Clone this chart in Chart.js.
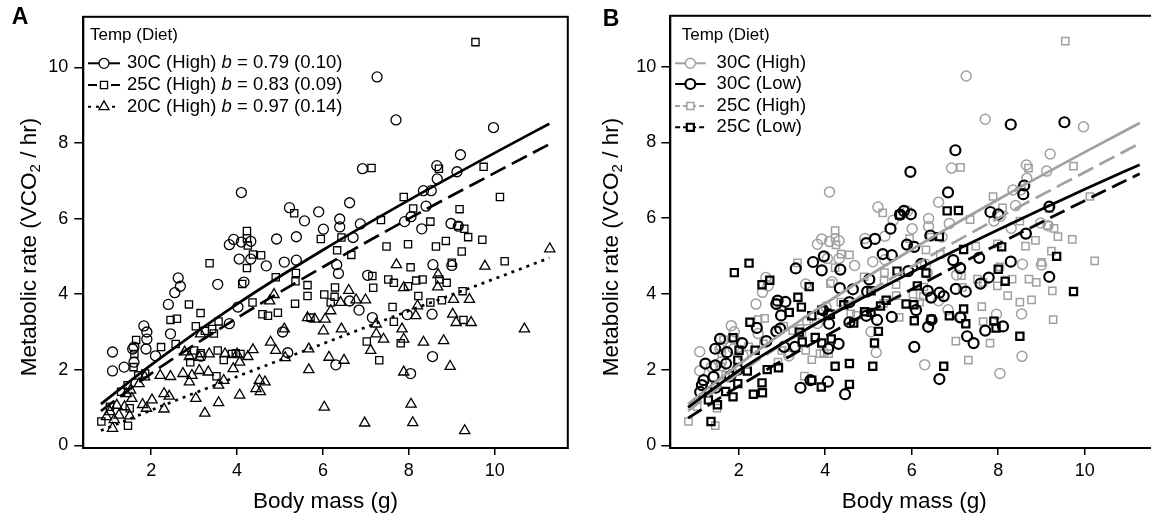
<!DOCTYPE html>
<html>
<head>
<meta charset="utf-8">
<script src="https://cdn.jsdelivr.net/npm/chart.js"></script>
<style>
  html, body { margin: 0; padding: 0; background: #fff; }
  #wrap { position: relative; width: 1151px; height: 515px; overflow: hidden; }
  canvas { position: absolute; top: 0; }
</style>
</head>
<body>
<div id="wrap">
  <canvas id="panelA" width="575" height="515" style="left:0"></canvas>
  <canvas id="panelB" width="600" height="515" style="left:575px"></canvas>
</div>
<script>
// Ticks
const xTicks = [2, 4, 6, 8, 10];
const yTicks = [0, 2, 4, 6, 8, 10];

// 30C, high diet (circles)
const circ30High = [
  [1.10,2.47],[1.10,1.97],[1.37,2.07],[1.57,2.55],[1.60,2.20],[1.60,2.60],[1.83,3.16],[1.88,2.55],
  [1.90,3.00],[1.90,2.81],[2.10,2.37],[2.40,3.73],[2.45,2.95],[2.55,4.04],[2.68,4.21],[2.63,4.43],
  [3.16,2.36],[3.55,4.26],[3.82,3.22],[3.82,5.31],[3.92,5.45],[4.02,3.66],[4.05,4.93],[4.10,5.38],
  [4.10,6.69],[4.16,4.32],[4.32,5.40],[4.32,4.93],[4.68,4.75],[4.92,5.46],[5.18,2.45],[5.06,3.00],
  [5.10,4.85],[5.22,6.29],[5.38,5.52],[5.38,4.90],[5.57,5.94],[5.90,6.18],[6.01,5.72],[6.30,2.13],
  [6.32,4.78],[6.36,4.55],[6.39,5.99],[6.39,5.78],[6.62,6.42],[6.62,3.82],[6.70,5.50],[6.84,3.58],
  [6.87,5.86],[6.92,7.32],[7.04,4.50],[7.15,3.38],[7.26,9.75],[7.70,8.61],[7.90,5.92],[7.96,3.46],
  [8.05,6.05],[8.04,1.90],[8.30,5.73],[8.34,6.74],[8.40,6.33],[8.52,6.74],[8.54,3.47],[8.55,2.35],
  [8.56,4.78],[8.65,7.40],[8.66,7.05],[8.98,5.87],[9.00,4.76],[9.12,7.24],[9.15,5.80],[9.20,7.69],
  [9.97,8.41]
];

// 25C, high diet (squares)
const sq25High = [
  [0.84,0.63],[1.04,1.02],[1.30,1.42],[1.45,1.59],[1.46,0.52],[1.50,0.98],[1.59,2.07],[1.61,2.42],
  [1.65,2.79],[1.70,1.85],[1.86,1.90],[2.23,2.60],[2.45,3.32],[2.60,3.35],[2.57,2.68],[2.88,3.73],
  [2.91,2.20],[3.00,2.51],[3.04,3.15],[3.15,3.50],[3.15,2.44],[3.25,3.03],[3.36,4.82],[3.42,3.08],
  [3.46,2.96],[3.55,2.51],[3.57,3.28],[3.52,1.83],[3.69,2.26],[3.88,2.42],[3.97,2.44],[4.08,2.42],
  [4.12,4.27],[4.23,5.67],[4.23,5.48],[4.25,5.29],[4.23,4.69],[4.36,3.78],[4.37,5.05],[4.56,5.03],
  [4.59,3.47],[4.72,3.43],[4.90,4.45],[4.95,3.51],[5.33,6.14],[5.37,4.56],[5.36,4.34],[5.35,3.75],
  [5.64,4.24],[5.64,3.95],[5.71,3.38],[5.95,5.46],[6.03,3.99],[6.18,3.78],[6.28,4.18],[6.27,3.93],
  [6.33,5.16],[6.43,5.50],[6.66,5.04],[7.02,2.75],[7.13,7.34],[7.17,4.17],[7.15,4.48],[7.31,2.25],
  [7.35,5.96],[7.48,5.26],[7.52,4.39],[7.62,3.66],[7.65,4.30],[7.65,3.27],[7.81,2.70],[7.88,6.57],
  [7.98,5.32],[7.98,4.21],[8.04,4.71],[8.10,6.27],[8.17,4.36],[8.22,3.95],[8.32,4.39],[8.50,5.92],
  [8.50,3.78],[8.63,5.26],[8.70,7.32],[8.71,4.39],[8.77,3.84],[8.86,5.41],[8.88,4.30],[9.00,4.83],
  [9.15,5.81],[9.18,6.25],[9.23,5.13],[9.25,4.08],[9.27,3.32],[9.29,5.73],[9.38,5.51],[9.55,10.67],
  [9.71,5.44],[9.74,7.37],[10.12,6.57],[10.23,4.87]
];

// 20C, high diet (triangles)
const tri20High = [
  [0.96,0.76],[1.04,0.89],[1.10,0.45],[1.14,0.68],[1.25,0.80],[1.38,1.02],[1.20,1.06],[1.42,1.37],
  [1.50,0.78],[1.52,1.46],[1.55,1.24],[1.72,1.63],[1.80,1.08],[1.85,1.81],[1.89,0.98],[2.02,1.20],
  [2.21,1.85],[2.30,0.96],[2.30,1.37],[2.42,1.30],[2.45,1.82],[2.74,1.90],[2.78,2.47],[2.89,2.35],
  [2.89,1.68],[2.95,1.85],[3.04,1.24],[3.12,2.33],[3.12,1.98],[3.15,2.95],[3.25,0.85],[3.33,1.94],
  [3.35,2.42],[3.57,1.59],[3.57,1.13],[3.69,1.72],[3.72,2.42],[3.91,2.03],[4.00,2.42],[4.06,2.20],
  [4.06,1.33],[4.25,2.35],[4.37,2.53],[4.44,1.50],[4.54,1.42],[4.52,1.72],[4.65,1.68],[4.76,3.82],
  [4.86,3.99],[4.78,2.73],[4.90,2.51],[5.10,3.08],[5.12,2.32],[5.64,3.38],[5.67,2.55],[5.67,2.00],
  [5.81,3.34],[6.01,3.03],[6.03,1.01],[6.05,3.34],[6.14,2.33],[6.18,3.56],[6.41,3.78],[6.43,3.08],
  [6.49,2.25],[6.60,4.10],[6.77,3.85],[6.97,0.59],[6.99,3.85],[7.11,2.51],[7.24,3.21],[7.24,2.95],
  [7.41,2.81],[7.71,4.78],[7.84,3.08],[7.88,4.17],[7.88,2.81],[7.88,1.94],[8.05,1.09],[8.09,0.60],
  [8.16,3.43],[8.20,3.69],[8.34,2.73],[8.67,4.19],[8.68,4.52],[8.81,2.77],[8.96,2.09],[9.02,3.47],
  [9.04,3.86],[9.10,3.25],[9.30,0.39],[9.41,3.86],[9.45,3.25],[9.77,4.74],[10.69,3.08],[11.28,5.20]
];

// 30C, low diet (circles, panel B)
const circ30Low = [
  [1.11,1.41],[1.15,1.59],[1.19,1.72],[1.23,2.16],[1.42,1.81],[1.46,2.55],[1.46,2.11],[1.47,1.52],
  [1.57,2.81],[1.71,2.16],[1.73,2.46],[1.80,1.82],[1.98,2.00],[2.08,2.70],[2.42,3.10],[2.64,2.75],
  [2.87,3.73],[2.87,3.01],[2.90,3.82],[2.96,3.08],[2.98,3.43],[3.08,3.79],[3.05,2.60],[3.30,2.60],
  [3.32,4.67],[3.43,1.52],[3.66,1.72],[3.72,4.84],[3.92,4.62],[3.95,3.57],[3.97,4.99],[4.06,1.68],
  [4.07,2.55],[4.08,3.46],[4.09,3.21],[4.31,2.68],[4.34,4.15],[4.35,4.64],[4.46,1.35],[4.56,3.78],
  [4.56,3.25],[4.64,4.12],[4.95,3.42],[4.95,5.34],[4.97,4.06],[5.02,4.38],[5.15,5.45],[5.20,3.31],
  [5.33,5.05],[5.54,5.02],[5.51,5.72],[5.54,3.39],[5.73,6.09],[5.82,6.19],[5.92,4.60],[5.97,7.22],
  [5.98,6.10],[6.06,5.24],[5.89,5.30],[6.06,2.60],[6.10,3.57],[6.22,4.79],[6.37,4.08],[6.38,3.13],
  [6.43,5.54],[6.45,3.90],[6.46,3.31],[6.64,4.03],[6.64,1.75],[6.74,3.94],[6.84,6.68],[6.96,4.89],
  [7.01,7.79],[7.02,4.13],[7.12,4.68],[7.12,3.38],[7.25,4.06],[7.28,2.88],[7.43,2.70],[7.59,4.27],
  [7.56,4.95],[7.70,3.03],[7.78,4.43],[7.82,6.16],[8.00,6.10],[8.11,3.14],[8.29,8.47],[8.29,4.85],
  [8.58,6.63],[8.60,6.86],[8.64,5.59],[9.18,6.30],[9.18,4.45],[9.53,8.53]
];

// 25C, low diet (squares, panel B)
const sq25Low = [
  [1.30,1.20],[1.36,0.63],[1.51,1.07],[1.70,1.42],[1.87,1.28],[1.87,2.84],[1.90,4.56],[1.98,2.25],
  [1.98,1.63],[2.01,2.51],[2.20,1.96],[2.24,4.81],[2.26,3.25],[2.34,1.35],[2.38,2.51],[2.54,4.24],
  [2.54,1.65],[2.55,1.39],[2.66,2.00],[2.72,4.36],[2.92,2.05],[3.17,3.51],[3.37,3.91],[3.40,2.99],
  [3.45,3.65],[3.47,2.73],[3.63,4.19],[3.69,3.42],[3.69,1.72],[3.77,2.85],[3.92,3.57],[3.92,2.70],
  [3.91,1.54],[4.12,3.46],[4.14,2.81],[4.23,2.09],[4.43,3.71],[4.56,2.16],[4.56,1.61],[4.66,3.23],
  [4.91,3.53],[5.06,3.51],[5.06,4.08],[5.10,2.09],[5.14,2.70],[5.23,3.01],[5.28,3.68],[5.41,3.83],
  [5.66,4.60],[5.72,6.08],[5.87,3.73],[6.05,3.71],[6.06,3.29],[6.13,4.21],[6.33,4.55],[6.45,3.33],
  [6.64,5.51],[6.74,2.09],[6.82,6.19],[6.87,3.42],[7.08,6.20],[7.20,5.17],[7.20,3.60],[7.25,3.21],
  [7.90,3.28],[7.95,3.10],[8.00,4.65],[8.08,5.24],[8.16,4.33],[8.50,2.88],[9.35,4.99],[9.74,4.06]
];

// Fitted curves at these masses
const fitX = [0.83, 2, 4, 6, 8, 10, 11.27];
const fit30High = [1.09, 2.13, 3.74, 5.17, 6.49, 7.74, 8.51];
const fit25High = [0.91, 1.90, 3.37, 4.72, 6.00, 7.21, 7.97];
const fit20High = [0.39, 0.93, 1.82, 2.69, 3.56, 4.41, 4.96];
const fit30Low  = [1.00, 1.97, 3.35, 4.57, 5.69, 6.76, 7.41];
const fit25Low  = [0.72, 1.56, 2.88, 4.12, 5.31, 6.46, 7.17];

const FONT = '"Liberation Sans", Arial, Helvetica, sans-serif';
const GRAY = '#a0a0a0';
Chart.defaults.font.family = FONT;
Chart.defaults.color = '#000';

function pts(arr) { return arr.map(p => ({ x: p[0], y: p[1] })); }
function curve(ys) { return fitX.map((x, i) => ({ x: x, y: ys[i] })); }

function markers(arr, style, color, radius, width) {
  return {
    data: pts(arr), showLine: false, pointStyle: style, pointRadius: radius,
    pointBorderWidth: width, borderColor: color, pointBorderColor: color,
    pointBackgroundColor: 'rgba(0,0,0,0)', backgroundColor: 'rgba(0,0,0,0)'
  };
}
function fitLine(ys, color, width, dash) {
  return {
    data: curve(ys), showLine: true, pointRadius: 0, borderColor: color,
    borderWidth: width, borderDash: dash, cubicInterpolationMode: 'monotone', fill: false
  };
}

function drawMarker(ctx, style, x, y, r, color, lw) {
  ctx.save();
  ctx.strokeStyle = color; ctx.fillStyle = '#fff'; ctx.lineWidth = lw; ctx.setLineDash([]);
  ctx.beginPath();
  if (style === 'circle') {
    ctx.arc(x, y, r, 0, Math.PI * 2);
  } else if (style === 'rect') {
    const s = r * Math.SQRT1_2;
    ctx.rect(x - s, y - s, 2 * s, 2 * s);
  } else {
    ctx.moveTo(x, y - r);
    ctx.lineTo(x + r * 0.866, y + r * 0.5);
    ctx.lineTo(x - r * 0.866, y + r * 0.5);
    ctx.closePath();
  }
  ctx.fill(); ctx.stroke();
  ctx.restore();
}

// frame, panel letter, y title and R-style legend
const framePlugin = {
  id: 'rFrame',
  afterDraw(chart, args, opts) {
    const ctx = chart.ctx, a = chart.chartArea;
    ctx.save();
    ctx.lineWidth = 2; ctx.strokeStyle = '#000'; ctx.setLineDash([]);
    ctx.strokeRect(a.left, a.top, a.right - a.left, a.bottom - a.top);

    ctx.fillStyle = '#000';
    ctx.textBaseline = 'middle';
    ctx.textAlign = 'center';
    ctx.font = 'bold 23px ' + FONT;
    ctx.fillText(opts.letter, opts.letterX, opts.letterY);

    // y axis title with subscript
    ctx.save();
    ctx.translate(opts.yTitleX, 247);
    ctx.rotate(-Math.PI / 2);
    ctx.textAlign = 'left';
    ctx.textBaseline = 'middle';
    const big = '22.5px ' + FONT, small = '15px ' + FONT;
    const p1 = 'Metabolic rate (VCO', p2 = '2', p3 = ' / hr)';
    ctx.font = big; const w1 = ctx.measureText(p1).width, w3 = ctx.measureText(p3).width;
    ctx.font = small; const w2 = ctx.measureText(p2).width;
    let tx = -(w1 + w2 + w3) / 2;
    ctx.font = big; ctx.fillText(p1, tx, 0); tx += w1;
    ctx.font = small; ctx.fillText(p2, tx, 6); tx += w2;
    ctx.font = big; ctx.fillText(p3, tx, 0);
    ctx.restore();

    ctx.textAlign = 'left';
    ctx.font = '17px ' + FONT;
    ctx.fillText('Temp (Diet)', a.left + opts.titleDx, 35);

    opts.items.forEach((it, i) => {
      const y = opts.rowY[i];
      const x0 = a.left + opts.sample[0], x1 = a.left + opts.sample[1];
      ctx.strokeStyle = it.color; ctx.lineWidth = it.lw;
      ctx.setLineDash(it.dash);
      ctx.beginPath(); ctx.moveTo(x0, y); ctx.lineTo(x1, y); ctx.stroke();
      drawMarker(ctx, it.style, (x0 + x1) / 2, y, it.r, it.color, it.mw);
      let tx2 = a.left + opts.textDx;
      ctx.fillStyle = '#000';
      it.parts.forEach(p => {
        ctx.font = (p.it ? 'italic ' : '') + '18.5px ' + FONT;
        ctx.fillText(p.t, tx2, y);
        tx2 += ctx.measureText(p.t).width;
      });
    });
    ctx.restore();
  }
};

function makePanel(id, L, datasets) {
  return new Chart(document.getElementById(id), {
    type: 'scatter',
    data: { datasets: datasets },
    options: {
      responsive: false, animation: false, devicePixelRatio: 1,
      layout: { padding: { top: 13, right: L.padRight, left: 0, bottom: 0 } },
      plugins: {
        legend: { display: false }, tooltip: { enabled: false },
        rFrame: L.legend
      },
      scales: {
        x: {
          type: 'linear', min: 0.42, max: 11.70,
          afterBuildTicks: s => { s.ticks = xTicks.map(v => ({ value: v })); },
          afterFit: s => { s.height = 67; },
          grid: { drawOnChartArea: false, drawTicks: true, tickLength: 7, color: '#000', lineWidth: 1.5 },
          border: { display: true, color: '#000', width: 2 },
          ticks: { color: '#000', font: { size: 18 }, padding: 5, maxRotation: 0 },
          title: { display: true, text: 'Body mass (g)', color: '#000', font: { size: 22.5 }, padding: { top: 0, bottom: 0 } }
        },
        y: {
          type: 'linear', min: -0.07, max: 11.34,
          afterBuildTicks: s => { s.ticks = yTicks.map(v => ({ value: v })); },
          afterFit: s => { s.width = L.yWidth; },
          grid: { drawOnChartArea: false, drawTicks: true, tickLength: 9, color: '#000', lineWidth: 1.5 },
          border: { display: true, color: '#000', width: 2 },
          ticks: { color: '#000', font: { size: 18 }, padding: L.yPad },
          title: { display: false }
        }
      }
    },
    plugins: [framePlugin]
  });
}

makePanel('panelA', {
  padRight: 4, yWidth: 83.3, yPad: 6,
  legend: {
    letter: 'A', letterX: 20, letterY: 18, yTitleX: 29.5, titleDx: 6.7, textDx: 43.7, sample: [4.7, 36.7],
    rowY: [63.3, 85, 106.7],
    items: [
      { style: 'circle', r: 5, color: '#000', lw: 2, mw: 1.3, dash: [],
        parts: [{ t: '30C (High) ' }, { t: 'b', it: true }, { t: ' = 0.79 (0.10)' }] },
      { style: 'rect', r: 5, color: '#000', lw: 2, mw: 1.3, dash: [9, 14],
        parts: [{ t: '25C (High) ' }, { t: 'b', it: true }, { t: ' = 0.83 (0.09)' }] },
      { style: 'triangle', r: 5.8, color: '#000', lw: 2, mw: 1.3, dash: [3, 5],
        parts: [{ t: '20C (High) ' }, { t: 'b', it: true }, { t: ' = 0.97 (0.14)' }] }
    ]
  }
}, [
  fitLine(fit30High, '#000', 2.7, []),
  fitLine(fit25High, '#000', 2.7, [17, 7]),
  fitLine(fit20High, '#000', 2.7, [3, 5]),
  markers(circ30High, 'circle', '#000', 5, 1.3),
  markers(sq25High, 'rect', '#000', 5.1, 1.3),
  markers(tri20High, 'triangle', '#000', 5.9, 1.3)
]);

makePanel('panelB', {
  padRight: 16.7, yWidth: 95.3, yPad: 5,
  legend: {
    letter: 'B', letterX: 36, letterY: 20, yTitleX: 36.8, titleDx: 11.4, textDx: 46.3, sample: [4.8, 35.3],
    rowY: [63.3, 84, 106, 127.3],
    items: [
      { style: 'circle', r: 5, color: GRAY, lw: 2, mw: 1.5, dash: [], parts: [{ t: '30C (High)' }] },
      { style: 'circle', r: 5, color: '#000', lw: 2, mw: 2.2, dash: [], parts: [{ t: '30C (Low)' }] },
      { style: 'rect', r: 5, color: GRAY, lw: 2, mw: 1.5, dash: [5, 3], parts: [{ t: '25C (High)' }] },
      { style: 'rect', r: 5, color: '#000', lw: 2, mw: 2.2, dash: [5, 3], parts: [{ t: '25C (Low)' }] }
    ]
  }
}, [
  fitLine(fit30Low, '#000', 2.8, []),
  fitLine(fit25Low, '#000', 2.8, [16, 7]),
  fitLine(fit30High, GRAY, 2.7, []),
  fitLine(fit25High, GRAY, 2.7, [17, 7]),
  markers(circ30Low, 'circle', '#000', 5, 2.2),
  markers(sq25Low, 'rect', '#000', 5.1, 2.2),
  markers(circ30High, 'circle', GRAY, 5, 1.5),
  markers(sq25High, 'rect', GRAY, 5.1, 1.5)
]);
</script>
</body>
</html>
